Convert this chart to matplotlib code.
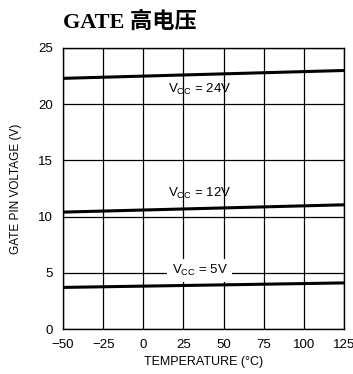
import matplotlib
matplotlib.use("Agg")
import matplotlib.pyplot as plt

# data
temp = [-50, 125]
v24 = [22.3, 23.0]
v12 = [10.4, 11.05]
v5 = [3.7, 4.1]
xticks = [-50, -25, 0, 25, 50, 75, 100, 125]
yticks = [0, 5, 10, 15, 20, 25]

plt.rcParams['font.family'] = ['Liberation Sans', 'DejaVu Sans']

fig = plt.figure(figsize=(3.53, 3.74), dpi=100)
ax = fig.add_axes([63 / 353, 45 / 374, 281 / 353, 281 / 374])

for y in (v24, v12, v5):
    ax.plot(temp, y, color='black', lw=2.2, solid_capstyle='butt', zorder=3)

ax.set_xlim(-50, 125)
ax.set_ylim(0, 25)
ax.set_xticks(xticks)
ax.set_yticks(yticks)
ax.set_xticklabels(['\u221250', '\u221225', '0', '25', '50', '75', '100', '125'])
ax.grid(True, color='black', lw=0.9)
ax.tick_params(length=0, labelsize=9.5)
ax.tick_params(axis='x', pad=7)
ax.tick_params(axis='y', pad=7)
for s in ax.spines.values():
    s.set_linewidth(1.0)

ax.set_xlabel('TEMPERATURE (\u00b0C)', fontsize=9, labelpad=4)
ax.set_ylabel('GATE PIN VOLTAGE (V)', fontsize=8.5, labelpad=12)

ax.text(35, 21.3, '$\\mathregular{V_{CC}}$ = 24V', ha='center', va='center', fontsize=9.5)
ax.text(35, 12.1, '$\\mathregular{V_{CC}}$ = 12V', ha='center', va='center', fontsize=9.5)
ax.text(35, 5.2, '$\\mathregular{V_{CC}}$ = 5V', ha='center', va='center', fontsize=9.5,
        bbox=dict(facecolor='white', edgecolor='none', pad=3), zorder=4)

fig.text(63 / 353, 1 - 22 / 374, 'GATE 高电压', fontsize=16, fontweight='bold',
         family=['Liberation Serif', 'Noto Sans CJK SC'], va='center', ha='left')

fig.savefig('out.png', dpi=100)
